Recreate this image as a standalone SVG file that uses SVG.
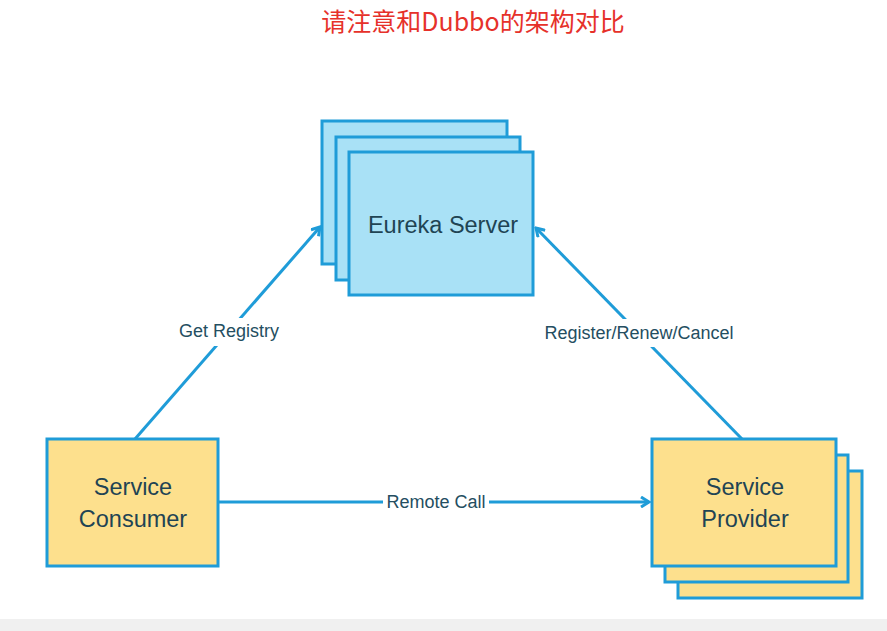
<svg xmlns="http://www.w3.org/2000/svg" width="887" height="631" viewBox="0 0 887 631">
<defs>
<style>
.blue{fill:#a9e1f6;stroke:#1f9cd8;stroke-width:3}
.yellow{fill:#fde08d;stroke:#1f9cd8;stroke-width:3}
.node{font-family:"Liberation Sans",Arial,sans-serif;font-size:23.5px;fill:#1f4454;text-anchor:middle}
.lbl{font-family:"Liberation Sans",Arial,sans-serif;font-size:18px;fill:#244e61;text-anchor:middle}
.conn{stroke:#1f9cd8;stroke-width:3;fill:none}
</style>
<marker id="arr" viewBox="0 0 12 12" refX="10" refY="6" markerWidth="12" markerHeight="12" markerUnits="userSpaceOnUse" orient="auto">
<path d="M2,1 L10,6 L2,11" fill="none" stroke="#1f9cd8" stroke-width="3" stroke-linejoin="miter"/>
</marker>
</defs>
<rect width="887" height="631" fill="#ffffff"/>
<rect x="0" y="619" width="887" height="12" fill="#f0f0f0"/>
<text x="473" y="31" font-family="'Noto Sans CJK SC',sans-serif" font-size="25" fill="#e6312a" text-anchor="middle">请注意和Dubbo的架构对比</text>
<g id="connectors">
<line class="conn" x1="135" y1="439" x2="320" y2="227" marker-end="url(#arr)"/>
<line class="conn" x1="742" y1="439" x2="536" y2="228" marker-end="url(#arr)"/>
<line class="conn" x1="218" y1="502" x2="649" y2="502" marker-end="url(#arr)"/>
<rect x="176" y="318" width="106" height="28" fill="#ffffff"/>
<text class="lbl" x="229" y="337">Get Registry</text>
<rect x="541" y="319" width="196" height="28" fill="#ffffff"/>
<text class="lbl" x="639" y="339">Register/Renew/Cancel</text>
<rect x="383" y="490" width="106" height="24" fill="#ffffff"/>
<text class="lbl" x="436" y="508">Remote Call</text>
</g>
<g id="eureka-server">
<rect class="blue" x="322" y="121" width="185" height="143"/>
<rect class="blue" x="336" y="137" width="184" height="143"/>
<rect class="blue" x="349" y="152" width="184" height="143"/>
<text class="node" x="443" y="233">Eureka Server</text>
</g>
<g id="service-consumer">
<rect class="yellow" x="47" y="439" width="171" height="127"/>
<text class="node" x="133" y="495">Service</text>
<text class="node" x="133" y="527">Consumer</text>
</g>
<g id="service-provider">
<rect class="yellow" x="678" y="471" width="184" height="127"/>
<rect class="yellow" x="665" y="455" width="183" height="127"/>
<rect class="yellow" x="652" y="439" width="184" height="127"/>
<text class="node" x="745" y="495">Service</text>
<text class="node" x="745" y="527">Provider</text>
</g>
</svg>
